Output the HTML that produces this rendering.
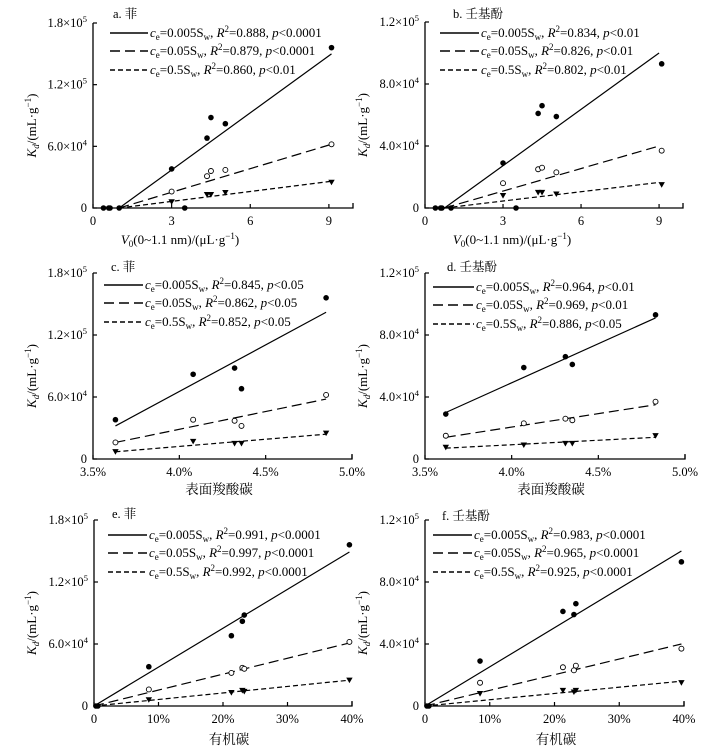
<!DOCTYPE html>
<html><head><meta charset="utf-8">
<style>
html,body{margin:0;padding:0;background:#fff;}
svg{display:block;font-family:"Liberation Serif","Noto Serif CJK SC",serif;}
</style></head>
<body>
<svg id="fig" width="724" height="755" viewBox="0 0 724 755" xmlns="http://www.w3.org/2000/svg"></svg>
<script>
// ---------- data ----------
const aX = [0.4, 0.6, 0.65, 1.0, 3.0, 3.5, 4.35, 4.5, 5.05, 9.1];
const aS1 = [0, 0, 0, 0, 38000, 0, 68000, 88000, 82000, 156000];
const aX2 = [3.0, 4.35, 4.5, 5.05, 9.1];
const aS2 = [16000, 31000, 36000, 37000, 62000];
const aS3 = [6000, 13000, 13000, 15000, 25000];
const aFit1 = [1.0, 0, 9.1, 150000];
const aFit2 = [1.0, 0, 9.1, 62000];
const aFit3 = [1.0, 0, 9.1, 26000];
const bX = [0.4, 0.6, 0.65, 1.0, 3.0, 3.5, 4.35, 4.5, 5.05, 9.1];
const bS1 = [0, 0, 0, 0, 29000, 0, 61000, 66000, 59000, 93000];
const bX2 = [3.0, 4.35, 4.5, 5.05, 9.1];
const bS2 = [16000, 25000, 26000, 23000, 37000];
const bS3 = [8000, 10000, 10000, 9000, 15000];
const bFit1 = [0.75, 0, 9.0, 100000];
const bFit2 = [0.75, 0, 9.0, 40000];
const bFit3 = [0.75, 0, 9.0, 16500];
const cX = [3.63, 4.08, 4.32, 4.36, 4.85];
const cS1 = [38000, 82000, 88000, 68000, 156000];
const cS2 = [16000, 38000, 37000, 32000, 62000];
const cS3 = [7000, 17000, 15000, 15000, 25000];
const cFit1 = [3.63, 32000, 4.85, 142000];
const cFit2 = [3.63, 16000, 4.85, 58000];
const cFit3 = [3.63, 7000, 4.85, 24000];
const dX = [3.62, 4.07, 4.31, 4.35, 4.83];
const dS1 = [29000, 59000, 66000, 61000, 93000];
const dS2 = [15000, 23000, 26000, 25000, 37000];
const dS3 = [7500, 9000, 10000, 10000, 15000];
const dFit1 = [3.62, 30000, 4.83, 91000];
const dFit2 = [3.62, 14000, 4.83, 35000];
const dFit3 = [3.62, 7000, 4.83, 14000];
const eX = [0.3, 0.6, 8.5, 21.3, 23.0, 23.3, 39.6];
const eS1 = [0, 0, 38000, 68000, 82000, 88000, 156000];
const eX2 = [8.5, 21.3, 23.0, 23.3, 39.6];
const eS2 = [16000, 32000, 37000, 36000, 62000];
const eS3 = [6000, 13000, 15000, 14000, 25000];
const eFit1 = [0, 0, 39.6, 149000];
const eFit2 = [0, 0, 39.6, 61000];
const eFit3 = [0, 0, 39.6, 25000];
const fX = [0.3, 0.6, 8.5, 21.3, 23.0, 23.3, 39.6];
const fS1 = [0, 0, 29000, 61000, 59000, 66000, 93000];
const fX2 = [8.5, 21.3, 23.0, 23.3, 39.6];
const fS2 = [15000, 25000, 23000, 26000, 37000];
const fS3 = [8000, 10000, 9000, 10000, 15000];
const fFit1 = [0, 0, 39.6, 100000];
const fFit2 = [0, 0, 39.6, 40000];
const fFit3 = [0, 0, 39.6, 16000];
const yTicksPhen = [0, 60000, 120000, 180000];
const yLabelsPhen = ["0", "6.0×10^4", "1.2×10^5", "1.8×10^5"];
const yTicksNp = [0, 40000, 80000, 120000];
const yLabelsNp = ["0", "4.0×10^4", "8.0×10^4", "1.2×10^5"];
const xTicksV = [0, 3, 6, 9];
const xLabelsV = ["0", "3", "6", "9"];
const xTicksS = [3.5, 4.0, 4.5, 5.0];
const xLabelsS = ["3.5%", "4.0%", "4.5%", "5.0%"];
const xTicksO = [0, 10, 20, 30, 40];
const xLabelsO = ["0", "10%", "20%", "30%", "40%"];
const rA = [["0.888","p<0.0001"],["0.879","p<0.0001"],["0.860","p<0.01"]];
const rB = [["0.834","p<0.01"],["0.826","p<0.01"],["0.802","p<0.01"]];
const rC = [["0.845","p<0.05"],["0.862","p<0.05"],["0.852","p<0.05"]];
const rD = [["0.964","p<0.01"],["0.969","p<0.01"],["0.886","p<0.05"]];
const rE = [["0.991","p<0.0001"],["0.997","p<0.0001"],["0.992","p<0.0001"]];
const rF = [["0.983","p<0.0001"],["0.965","p<0.0001"],["0.925","p<0.0001"]];

const NS = "http://www.w3.org/2000/svg";
const svg = document.getElementById('fig');
function mk(tag, attrs, parent){
  const e = document.createElementNS(NS, tag);
  for (const k in attrs) e.setAttribute(k, attrs[k]);
  (parent||svg).appendChild(e);
  return e;
}
function supText(parent, str, x, y, anchor, size){
  const t = mk('text', {x:x, y:y, 'text-anchor':anchor, 'font-size':size, fill:'#000'}, parent);
  const parts = str.split('^');
  t.appendChild(document.createTextNode(parts[0]));
  if (parts[1]) {
    const s = mk('tspan', {dy:-5, 'font-size':size*0.7}, t);
    s.textContent = parts[1];
  }
  return t;
}

const panels = [
 {id:'a', title:'a. 菲', tx:113, ty:18, px0:93, px1:353, xmin:0, xmax:9.92, py0:208, pyTop:23, ymax:180000,
  yT:yTicksPhen, yL:yLabelsPhen, xT:xTicksV, xL:xLabelsV, xlab:'V', xlx:180, xly:244,
  s:[[aX,aS1],[aX2,aS2],[aX2,aS3]], fits:[aFit1,aFit2,aFit3], stats:rA, lx0:110, lx1:148, ly:[33,51,70], ylx:36},
 {id:'b', title:'b. 壬基酚', tx:453, ty:18, px0:425, px1:683, xmin:0, xmax:9.92, py0:208, pyTop:22, ymax:120000,
  yT:yTicksNp, yL:yLabelsNp, xT:xTicksV, xL:xLabelsV, xlab:'V', xlx:512, xly:244,
  s:[[bX,bS1],[bX2,bS2],[bX2,bS3]], fits:[bFit1,bFit2,bFit3], stats:rB, lx0:440, lx1:479, ly:[33,51,70], ylx:367},
 {id:'c', title:'c. 菲', tx:111, ty:271, px0:93, px1:352, xmin:3.5, xmax:5.0, py0:459, pyTop:273, ymax:180000,
  yT:yTicksPhen, yL:yLabelsPhen, xT:xTicksS, xL:xLabelsS, xlab:'表面羧酸碳', xlx:219, xly:494,
  s:[[cX,cS1],[cX,cS2],[cX,cS3]], fits:[cFit1,cFit2,cFit3], stats:rC, lx0:104, lx1:143, ly:[285,303,322], ylx:36},
 {id:'d', title:'d. 壬基酚', tx:447, ty:271, px0:425, px1:685, xmin:3.5, xmax:5.0, py0:459, pyTop:273, ymax:120000,
  yT:yTicksNp, yL:yLabelsNp, xT:xTicksS, xL:xLabelsS, xlab:'表面羧酸碳', xlx:551, xly:494,
  s:[[dX,dS1],[dX,dS2],[dX,dS3]], fits:[dFit1,dFit2,dFit3], stats:rD, lx0:433, lx1:474, ly:[287,305,324], ylx:367},
 {id:'e', title:'e. 菲', tx:112, ty:518, px0:94, px1:352, xmin:0, xmax:40, py0:706, pyTop:520, ymax:180000,
  yT:yTicksPhen, yL:yLabelsPhen, xT:xTicksO, xL:xLabelsO, xlab:'有机碳', xlx:229, xly:744,
  s:[[eX,eS1],[eX2,eS2],[eX2,eS3]], fits:[eFit1,eFit2,eFit3], stats:rE, lx0:108, lx1:147, ly:[535,553,572], ylx:36},
 {id:'f', title:'f. 壬基酚', tx:442, ty:520, px0:425, px1:684, xmin:0, xmax:40, py0:706, pyTop:520, ymax:120000,
  yT:yTicksNp, yL:yLabelsNp, xT:xTicksO, xL:xLabelsO, xlab:'有机碳', xlx:556, xly:744,
  s:[[fX,fS1],[fX2,fS2],[fX2,fS3]], fits:[fFit1,fFit2,fFit3], stats:rF, lx0:433, lx1:472, ly:[535,553,572], ylx:367},
];
const dashes = ['none', '10,5', '5,3'];
const ceLabels = ['0.005', '0.05', '0.5'];
const seriesNames = ['ce-0005', 'ce-005', 'ce-05'];

panels.forEach(p => {
  const g = mk('g', {});
  
  
  const X = v => p.px0 + (v - p.xmin) / (p.xmax - p.xmin) * (p.px1 - p.px0);
  const Y = v => p.py0 - v / p.ymax * (p.py0 - p.pyTop);
  const ax = mk('path', {d:`M${p.px0},${p.pyTop}V${p.py0}H${p.px1}V${p.py0-5}`, fill:'none', stroke:'#000', 'stroke-width':1.3}, g);
  
  
  p.yT.forEach((v, i) => {
    mk('line', {x1:p.px0, x2:p.px0+4, y1:Y(v), y2:Y(v), stroke:'#000', 'stroke-width':1.2}, g);
    const t = supText(g, p.yL[i], p.px0-6, Y(v)+4, 'end', 12.5);
    
    
  });
  p.xT.forEach((v, i) => {
    mk('line', {x1:X(v), x2:X(v), y1:p.py0, y2:p.py0-4, stroke:'#000', 'stroke-width':1.2}, g);
    const t = mk('text', {x:X(v), y:p.py0+17, 'text-anchor':'middle', 'font-size':12.5}, g);
    t.textContent = p.xL[i];
    
    
  });
  const yt = mk('text', {transform:`translate(${p.ylx},${(p.py0+p.pyTop)/2+10}) rotate(-90)`, 'text-anchor':'middle', 'font-size':13}, g);
  
  
  const k = mk('tspan', {'font-style':'italic'}, yt); k.textContent = 'K';
  const kd = mk('tspan', {'font-style':'italic', 'font-size':9, dy:3}, yt); kd.textContent = 'd';
  const k2 = mk('tspan', {dy:-3}, yt); k2.textContent = '/(mL·g';
  const k3 = mk('tspan', {dy:-5, 'font-size':9}, yt); k3.textContent = '−1';
  const k4 = mk('tspan', {dy:5}, yt); k4.textContent = ')';
  const xt = mk('text', {x:p.xlx, y:p.xly, 'text-anchor':'middle', 'font-size':13}, g);
  
  
  if (p.xlab === 'V') {
    const v1 = mk('tspan', {'font-style':'italic'}, xt); v1.textContent = 'V';
    const v2 = mk('tspan', {'font-size':9, dy:3}, xt); v2.textContent = '0';
    const v3 = mk('tspan', {dy:-3}, xt); v3.textContent = '(0~1.1 nm)/(μL·g';
    const v4 = mk('tspan', {dy:-5, 'font-size':9}, xt); v4.textContent = '−1';
    const v5 = mk('tspan', {dy:5}, xt); v5.textContent = ')';
  } else {
    xt.textContent = p.xlab;
    xt.setAttribute('font-size', 13.5);
  }
  const tt = mk('text', {x:p.tx, y:p.ty, 'font-size':12.5}, g);
  tt.textContent = p.title;
  
  
  p.fits.forEach((f, i) => {
    const ln = mk('line', {x1:X(f[0]), y1:Y(f[1]), x2:X(f[2]), y2:Y(f[3]), stroke:'#000', 'stroke-width':1.2, 'stroke-dasharray':dashes[i]}, g);
    
    
  });
  p.s.forEach((s, i) => {
    s[0].forEach((xv, j) => {
      const cx = X(xv), cy = Y(s[1][j]);
      let m;
      if (i === 0) m = mk('circle', {cx:cx, cy:cy, r:2.8, fill:'#000'}, g);
      else if (i === 1) m = mk('circle', {cx:cx, cy:cy, r:2.5, fill:'#fff', stroke:'#000', 'stroke-width':0.9}, g);
      else m = mk('path', {d:`M${cx-3.2},${cy-2.6}H${cx+3.2}L${cx},${cy+3}Z`, fill:'#000'}, g);
      
      
    });
  });
  p.ly.forEach((ly, i) => {
    const lg = mk('g', {}, g);
    
    
    mk('line', {x1:p.lx0, x2:p.lx1, y1:ly, y2:ly, stroke:'#000', 'stroke-width':1.4, 'stroke-dasharray':dashes[i]}, lg);
    const t = mk('text', {x:p.lx1+2, y:ly+4, 'font-size':13}, lg);
    const a1 = mk('tspan', {'font-style':'italic'}, t); a1.textContent = 'c';
    const a2 = mk('tspan', {'font-size':9, dy:3}, t); a2.textContent = 'e';
    const a3 = mk('tspan', {dy:-3}, t); a3.textContent = '=' + ceLabels[i] + 'S';
    const a4 = mk('tspan', {'font-size':9, dy:3}, t); a4.textContent = 'w';
    const a5 = mk('tspan', {dy:-3}, t); a5.textContent = ',  ';
    const a6 = mk('tspan', {'font-style':'italic'}, t); a6.textContent = 'R';
    const a7 = mk('tspan', {'font-size':9, dy:-5}, t); a7.textContent = '2';
    const a8 = mk('tspan', {dy:5}, t); a8.textContent = '=' + p.stats[i][0] + ',  ';
    const a9 = mk('tspan', {'font-style':'italic'}, t); a9.textContent = 'p';
    const a10 = mk('tspan', {}, t); a10.textContent = p.stats[i][1].slice(1);
  });
});
</script>
</body></html>
